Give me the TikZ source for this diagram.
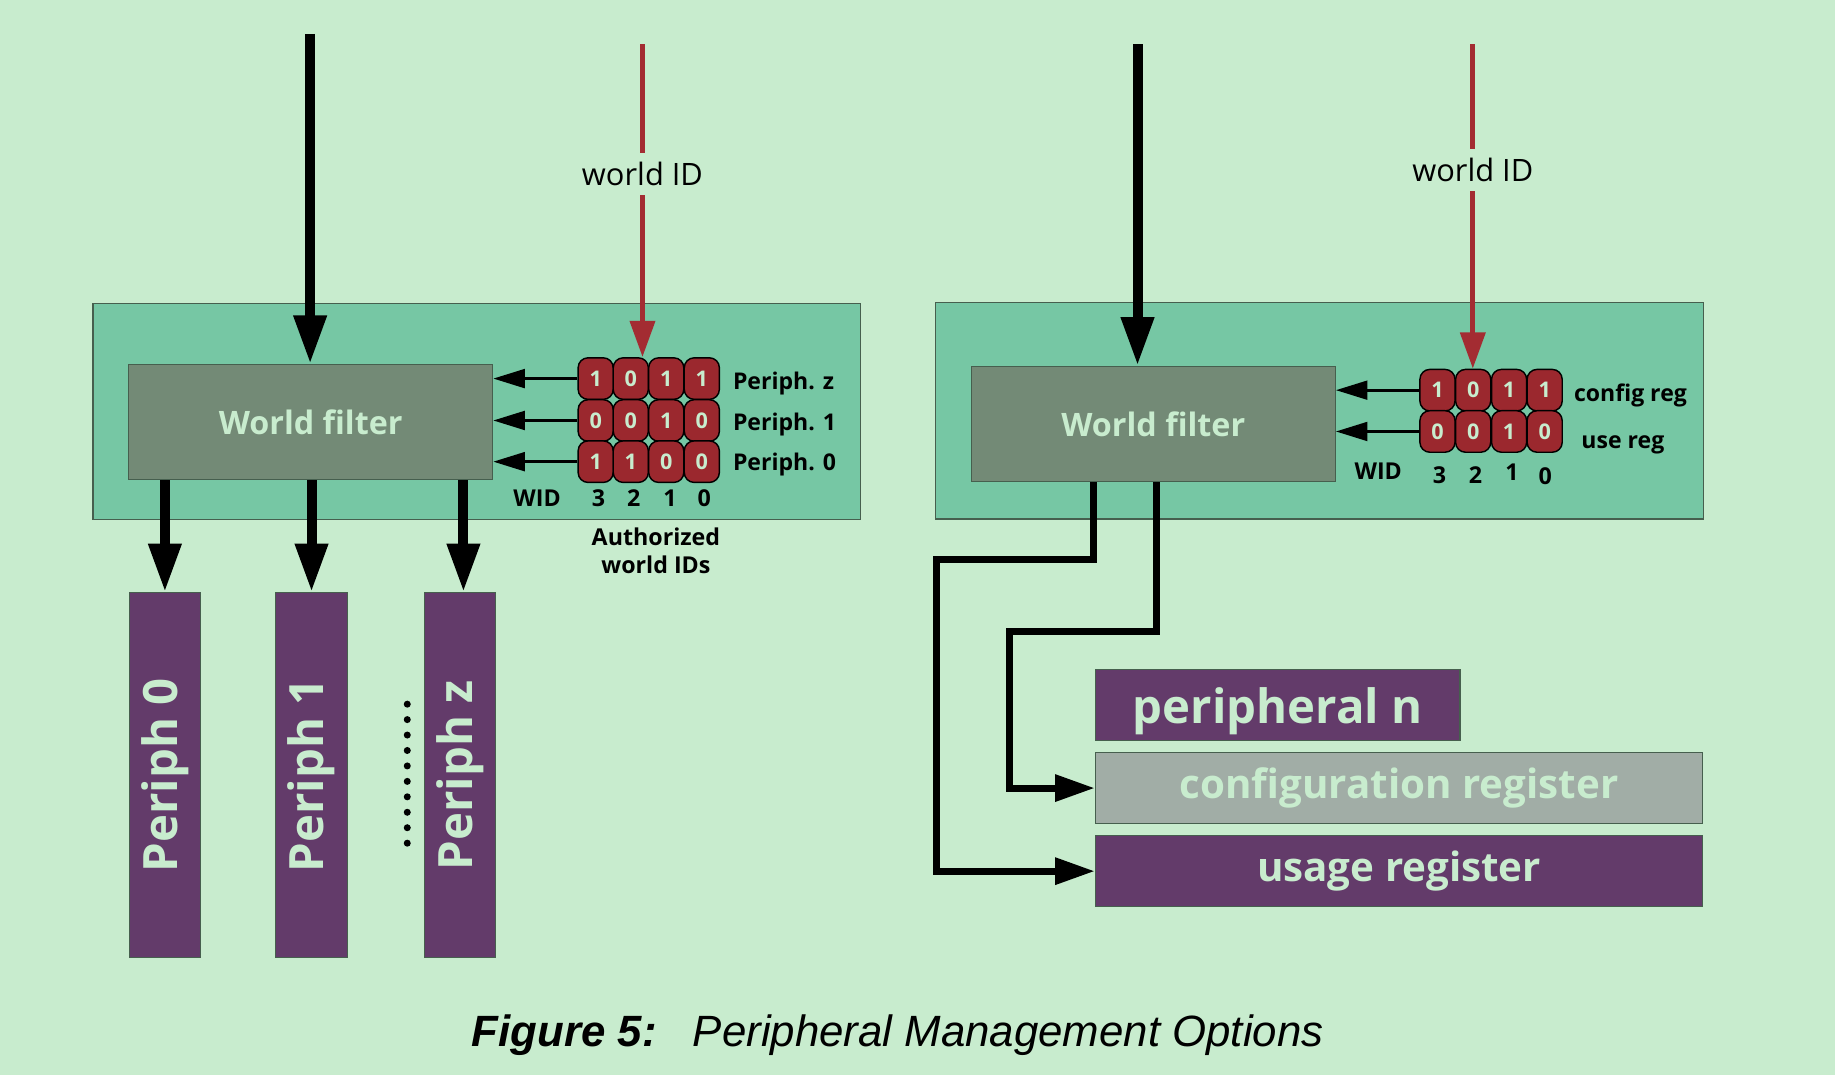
\documentclass[tikz,border=0pt]{standalone}
\usepackage{fontspec}
\setmainfont{Open Sans}
\newfontfamily\capfont{Liberation Sans}
\usetikzlibrary{arrows.meta}

\definecolor{bg}{RGB}{200,236,206}
\definecolor{panel}{RGB}{118,199,164}
\definecolor{filtergray}{RGB}{115,138,118}
\definecolor{cellred}{RGB}{155,40,46}
\definecolor{idred}{RGB}{163,44,50}
\definecolor{periph}{RGB}{99,59,106}
\definecolor{cfggray}{RGB}{161,173,166}
\definecolor{edge}{RGB}{70,95,78}

\tikzset{
    panelbox/.style={draw=edge, line width=0.6pt, fill=panel, inner sep=0,
        minimum width=13.12cm, minimum height=3.7cm},
    filterbox/.style={draw=edge, line width=0.6pt, fill=filtergray, inner sep=0,
        minimum width=6.22cm, minimum height=1.97cm, text=bg,
        font=\fontsize{15.7}{19}\selectfont\bfseries},
    bitcell/.style={draw=black, line width=0.7pt, fill=cellred, rounded corners=0.17cm,
        inner sep=0, minimum width=0.6cm, minimum height=0.71cm, text=bg,
        font=\fontsize{10.5}{12}\selectfont\bfseries},
    reglabel/.style={anchor=base west, inner sep=0, font=\fontsize{11.2}{13.8}\selectfont\bfseries},
    widtext/.style={anchor=base, inner sep=0, font=\fontsize{11.3}{13.8}\selectfont\bfseries},
    idtext/.style={inner xsep=0, inner ysep=0.15cm, font=\fontsize{15}{18}\selectfont},
    periphbox/.style={draw=edge, line width=0.6pt, fill=periph, inner sep=0,
        minimum width=1.22cm, minimum height=6.24cm, text=bg,
        font=\fontsize{23}{27}\selectfont\bfseries},
    regbox/.style={draw=edge, line width=0.6pt, inner sep=0, minimum height=1.22cm,
        text=bg, font=\fontsize{19.6}{24}\selectfont\bfseries},
    captext/.style={anchor=base, inner sep=0, font=\capfont\fontsize{21.3}{25}\selectfont\itshape},
    bigarrow/.style={line width=0.17cm, -{Triangle[length=0.83cm, width=0.53cm]}},
    idline/.style={line width=0.09cm, idred},
    idarrow/.style={idline, -{Triangle[length=0.62cm, width=0.42cm]}},
    smallarrow/.style={line width=0.05cm, -{Triangle[length=0.54cm, width=0.32cm]}},
    routearrow/.style={line width=0.12cm, -{Triangle[length=0.68cm, width=0.44cm]}},
    dotline/.style={line width=0.12cm, line cap=round, dash pattern=on 0pt off 0.264cm}
}

\begin{document}
\begin{tikzpicture}[x=0.02cm, y=-0.02cm]
    % Background
    \fill[bg] (0,0) rectangle (1568,918.6);
    \useasboundingbox (0,0) rectangle (1568,918.6);

    % Nodes
    \node (lpanel) [panelbox] at (407.5,351.5) {};
    \node (rpanel) [panelbox] at (1127.5,351) {};
    \node (lfilter) [filterbox] at (265.5,360.8) {World filter};
    \node (rfilter) [filterbox] at (985.5,362.3) {World filter};

    % authorized world IDs, left
    \node (z3) [bitcell] at (509,323.5) {1};
    \node (z2) [bitcell] at (539,323.5) {0};
    \node (z1) [bitcell] at (569.3,323.5) {1};
    \node (z0) [bitcell] at (599.7,323.5) {1};
    \node (one3) [bitcell] at (509,359.3) {0};
    \node (one2) [bitcell] at (539,359.3) {0};
    \node (one1) [bitcell] at (569.3,359.3) {1};
    \node (one0) [bitcell] at (599.7,359.3) {0};
    \node (zero3) [bitcell] at (509,394.5) {1};
    \node (zero2) [bitcell] at (539,394.5) {1};
    \node (zero1) [bitcell] at (569.3,394.5) {0};
    \node (zero0) [bitcell] at (599.7,394.5) {0};
    \node (labz) [reglabel] at (626,333) {Periph. z};
    \node (labone) [reglabel] at (626,367.5) {Periph. 1};
    \node (labzero) [reglabel] at (626,401.7) {Periph. 0};
    \node (lwid) [widtext] at (459,433) {WID};
    \node [widtext] at (511.5,433) {3};
    \node [widtext] at (541.5,433) {2};
    \node [widtext] at (572.5,433) {1};
    \node [widtext] at (601.7,433) {0};
    \node (auth) [widtext, anchor=north, align=center] at (560.5,450.5) {Authorized\\world IDs};

    % config and use registers, right
    \node (c3) [bitcell] at (1228.3,333.4) {1};
    \node (c2) [bitcell] at (1258.8,333.4) {0};
    \node (c1) [bitcell] at (1289.5,333.4) {1};
    \node (c0) [bitcell] at (1319.9,333.4) {1};
    \node (u3) [bitcell] at (1228.3,368.7) {0};
    \node (u2) [bitcell] at (1258.8,368.7) {0};
    \node (u1) [bitcell] at (1289.5,368.7) {1};
    \node (u0) [bitcell] at (1319.9,368.7) {0};
    \node (labcfg) [reglabel] at (1344.7,343.3) {config reg};
    \node (labuse) [reglabel] at (1351,383.2) {use reg};
    \node (rwid) [widtext] at (1177.7,409.7) {WID};
    \node [widtext] at (1230,413) {3};
    \node [widtext] at (1260.7,413) {2};
    \node [widtext] at (1292,410.7) {1};
    \node [widtext] at (1320.5,414) {0};

    % world ID inputs
    \coordinate (lin) at (265,29);
    \coordinate (rin) at (972,38);
    \coordinate (lidtop) at (549,38);
    \coordinate (ridtop) at (1258.5,38);
    \node (lidlab) [idtext] at (549,149) {world ID};
    \node (ridlab) [idtext] at (1258.5,145.5) {world ID};

    % peripherals
    \node (p0) [periphbox] at (140.9,662.5) {\rotatebox{90}{Periph 0}};
    \node (p1) [periphbox] at (266.2,662.5) {\rotatebox{90}{Periph 1}};
    \node (pz) [periphbox] at (393,662.5) {\rotatebox{90}{Periph z}};
    \draw[dotline] (348,601.7) -- (348,721);

    \node (pn) [regbox, fill=periph, minimum width=6.23cm,
        font=\fontsize{23}{27}\selectfont\bfseries] at (1091.8,602.4)
        {\raisebox{-0.1cm}[\height][\depth]{peripheral n}};
    \node (creg) [regbox, fill=cfggray, minimum width=10.38cm] at (1195.5,673.4) {configuration register};
    \node (ureg) [regbox, fill=periph, minimum width=10.38cm] at (1195.5,744.4) {usage register};

    % Edges
    \draw[bigarrow] (lin) -- (lin |- lfilter.north);
    \draw[bigarrow] (rin) -- (rin |- rfilter.north);
    \draw[idline] (lidtop) -- (lidlab);
    \draw[idarrow] (lidlab) -- (lidlab |- z2.north);
    \draw[idline] (ridtop) -- (ridlab);
    \draw[idarrow] (ridlab) -- (ridlab |- c2.north);

    \draw[smallarrow] (z3) -- (z3 -| lfilter.east);
    \draw[smallarrow] (one3) -- (one3 -| lfilter.east);
    \draw[smallarrow] (zero3) -- (zero3 -| lfilter.east);
    \draw[smallarrow] (c3) -- (c3 -| rfilter.east);
    \draw[smallarrow] (u3) -- (u3 -| rfilter.east);

    \draw[bigarrow] (lfilter.south -| p0.north) -- (p0.north);
    \draw[bigarrow] (lfilter.south -| p1.north) -- (p1.north);
    \draw[bigarrow] ([xshift=0.06cm]lfilter.south -| pz.north) -- ([xshift=0.06cm]pz.north);

    \draw[routearrow] ([xshift=-1.03cm]rfilter.south) |- (800,478) |- (ureg.west);
    \draw[routearrow] ([xshift=0.05cm]rfilter.south) |- (862.5,540) |- (creg.west);

    % Caption
    \node (caption) [captext] at (767,894.6) {{\bfseries Figure 5:}\hspace{0.62cm}Peripheral Management Options};
\end{tikzpicture}
\end{document}
